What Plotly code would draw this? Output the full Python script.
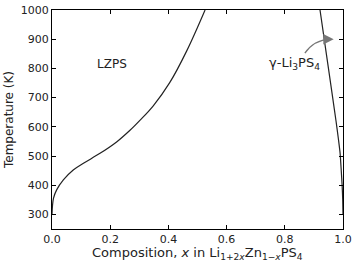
import plotly.graph_objects as go

# Phase boundary: LZPS solubility limit
lzps_x = [0.0, 0.005, 0.016, 0.039, 0.073, 0.108, 0.165, 0.222, 0.268, 0.302, 0.348, 0.405, 0.463, 0.526]
lzps_T = [300, 355, 384, 418, 452, 475, 509, 548, 588, 622, 672, 752, 860, 1000]

# Phase boundary: gamma-Li3PS4 solubility limit
gam_x = [0.921, 0.9355, 0.950, 0.9645, 0.976, 0.984, 0.990, 0.994, 0.997, 0.999, 1.0]
gam_T = [1000, 900, 800, 700, 620, 560, 510, 450, 400, 350, 300]

x_ticks = [0.0, 0.2, 0.4, 0.6, 0.8, 1.0]
y_ticks = [300, 400, 500, 600, 700, 800, 900, 1000]

font = "DejaVu Sans"
line_col = "#222222"

fig = go.Figure()
fig.add_trace(go.Scatter(x=lzps_x, y=lzps_T, mode="lines",
                         line=dict(color=line_col, width=1.2, shape="spline", smoothing=1.0),
                         showlegend=False, hoverinfo="skip"))
fig.add_trace(go.Scatter(x=gam_x, y=gam_T, mode="lines",
                         line=dict(color=line_col, width=1.2, shape="spline", smoothing=0.6),
                         showlegend=False, hoverinfo="skip"))

# curved arrow
fig.add_shape(type="path", xref="x", yref="y",
              path="M 0.869,852 Q 0.90,897 0.955,900",
              line=dict(color="#777777", width=1.3))
fig.add_annotation(x=0.968, y=900, ax=0.950, ay=900, xref="x", yref="y",
                   axref="x", ayref="y", showarrow=True, arrowhead=2,
                   arrowsize=1.6, arrowwidth=1.3, arrowcolor="#777777", text="")

fig.add_annotation(x=0.206, y=815, xref="x", yref="y", text="LZPS", showarrow=False,
                   font=dict(family=font, size=12, color="#222222"))
fig.add_annotation(x=0.835, y=816, xref="x", yref="y",
                   text="γ-Li<sub>3</sub>PS<sub>4</sub>", showarrow=False,
                   font=dict(family=font, size=13, color="#222222"))

# x-axis title
fig.add_annotation(x=0.5, y=-0.112, xref="paper", yref="paper", yanchor="middle",
                   text="Composition, <i>x</i> in Li<sub>1+2<i>x</i></sub>Zn<sub>1−<i>x</i></sub>PS<sub>4</sub>",
                   showarrow=False, font=dict(family=font, size=13, color="#222222"))

axis_common = dict(showgrid=False, zeroline=False, showline=True, linecolor="black",
                   linewidth=1, mirror="allticks", ticks="inside", ticklen=4,
                   tickcolor="black", tickwidth=1, automargin=False,
                   tickfont=dict(family=font, size=11, color="#222222"))

fig.update_xaxes(range=[0, 1], tickvals=x_ticks,
                 ticktext=[f"{v:.1f}" for v in x_ticks],
                 **axis_common)
fig.update_yaxes(range=[250, 1000], tickvals=y_ticks,
                 ticktext=[str(v) for v in y_ticks],
                 title=dict(text="Temperature (K)",
                            font=dict(family=font, size=12, color="#222222"), standoff=4),
                 **axis_common)

fig.update_layout(width=352, height=261, margin=dict(l=52, r=9, t=10, b=32),
                  plot_bgcolor="white", paper_bgcolor="white")

fig.write_html("out.html")
